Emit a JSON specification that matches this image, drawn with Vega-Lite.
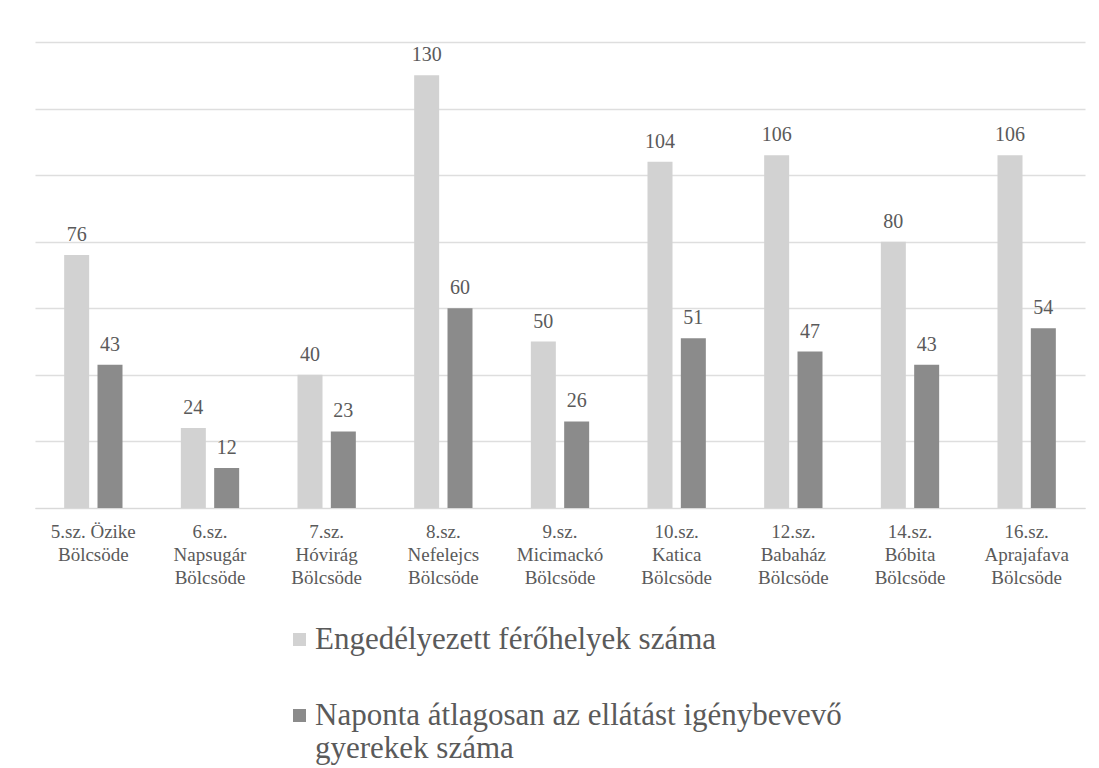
{
  "$schema": "https://vega.github.io/schema/vega-lite/v6.json",
  "width": 1050,
  "height": 466,
  "padding": {"left": 35, "top": 42, "right": 5, "bottom": 5},
  "background": "white",
  "config": {
    "view": {"stroke": null},
    "font": "Liberation Serif"
  },
  "data": {
    "values": [
      {"bolcsode": "5.sz. Özike|Bölcsöde", "sorozat": "Engedélyezett férőhelyek száma", "ertek": 76},
      {"bolcsode": "5.sz. Özike|Bölcsöde", "sorozat": "Naponta átlagosan az ellátást igénybevevő gyerekek száma", "ertek": 43},
      {"bolcsode": "6.sz.|Napsugár|Bölcsöde", "sorozat": "Engedélyezett férőhelyek száma", "ertek": 24},
      {"bolcsode": "6.sz.|Napsugár|Bölcsöde", "sorozat": "Naponta átlagosan az ellátást igénybevevő gyerekek száma", "ertek": 12},
      {"bolcsode": "7.sz.|Hóvirág|Bölcsöde", "sorozat": "Engedélyezett férőhelyek száma", "ertek": 40},
      {"bolcsode": "7.sz.|Hóvirág|Bölcsöde", "sorozat": "Naponta átlagosan az ellátást igénybevevő gyerekek száma", "ertek": 23},
      {"bolcsode": "8.sz.|Nefelejcs|Bölcsöde", "sorozat": "Engedélyezett férőhelyek száma", "ertek": 130},
      {"bolcsode": "8.sz.|Nefelejcs|Bölcsöde", "sorozat": "Naponta átlagosan az ellátást igénybevevő gyerekek száma", "ertek": 60},
      {"bolcsode": "9.sz.|Micimackó|Bölcsöde", "sorozat": "Engedélyezett férőhelyek száma", "ertek": 50},
      {"bolcsode": "9.sz.|Micimackó|Bölcsöde", "sorozat": "Naponta átlagosan az ellátást igénybevevő gyerekek száma", "ertek": 26},
      {"bolcsode": "10.sz.|Katica|Bölcsöde", "sorozat": "Engedélyezett férőhelyek száma", "ertek": 104},
      {"bolcsode": "10.sz.|Katica|Bölcsöde", "sorozat": "Naponta átlagosan az ellátást igénybevevő gyerekek száma", "ertek": 51},
      {"bolcsode": "12.sz.|Babaház|Bölcsöde", "sorozat": "Engedélyezett férőhelyek száma", "ertek": 106},
      {"bolcsode": "12.sz.|Babaház|Bölcsöde", "sorozat": "Naponta átlagosan az ellátást igénybevevő gyerekek száma", "ertek": 47},
      {"bolcsode": "14.sz.|Bóbita|Bölcsöde", "sorozat": "Engedélyezett férőhelyek száma", "ertek": 80},
      {"bolcsode": "14.sz.|Bóbita|Bölcsöde", "sorozat": "Naponta átlagosan az ellátást igénybevevő gyerekek száma", "ertek": 43},
      {"bolcsode": "16.sz.|Aprajafava|Bölcsöde", "sorozat": "Engedélyezett férőhelyek száma", "ertek": 106},
      {"bolcsode": "16.sz.|Aprajafava|Bölcsöde", "sorozat": "Naponta átlagosan az ellátást igénybevevő gyerekek száma", "ertek": 54}
    ]
  },
  "encoding": {
    "x": {
      "field": "bolcsode",
      "type": "nominal",
      "sort": null,
      "scale": {"paddingInner": 0.5, "paddingOuter": 0.25},
      "axis": {
        "title": null,
        "labelAngle": 0,
        "labelExpr": "split(datum.label, '|')",
        "labelFont": "Liberation Serif",
        "labelFontSize": 19,
        "labelColor": "#5a5a5a",
        "labelLineHeight": 23,
        "labelPadding": 14,
        "labelBaseline": "top",
        "ticks": false,
        "domain": true,
        "domainColor": "#d9d9d9",
        "grid": false
      }
    },
    "xOffset": {
      "field": "sorozat",
      "type": "nominal",
      "scale": {"paddingInner": 0.25, "paddingOuter": 0}
    },
    "y": {
      "field": "ertek",
      "type": "quantitative",
      "scale": {"domain": [0, 140], "nice": false},
      "axis": {
        "title": null,
        "values": [0, 20, 40, 60, 80, 100, 120, 140],
        "labels": false,
        "ticks": false,
        "domain": false,
        "grid": true,
        "gridColor": "#dedede",
        "gridWidth": 1.5
      }
    }
  },
  "layer": [
    {
      "mark": {"type": "bar"},
      "encoding": {
        "color": {
          "field": "sorozat",
          "type": "nominal",
          "scale": {
            "domain": ["Engedélyezett férőhelyek száma", "Naponta átlagosan az ellátást igénybevevő gyerekek száma"],
            "range": ["#d2d2d2", "#8b8b8b"]
          },
          "legend": {
            "title": null,
            "orient": "none",
            "legendX": 249,
            "legendY": 582,
            "direction": "vertical",
            "symbolType": "square",
            "symbolSize": 169,
            "symbolStrokeWidth": 0,
            "labelFont": "Liberation Serif",
            "labelFontSize": 31,
            "labelColor": "#5a5a5a",
            "labelLimit": 0,
            "labelLineHeight": 28,
            "labelBaseline": "alphabetic",
            "labelOffset": 0,
            "rowPadding": 44,
            "labelExpr": "datum.label == 'Engedélyezett férőhelyek száma' ? datum.label : ['Naponta átlagosan az ellátást igénybevevő', 'gyerekek száma']",
            "encode": {
              "labels": {"update": {"dy": {"value": 9}}}
            }
          }
        }
      }
    },
    {
      "mark": {"type": "text", "dy": -20, "fontSize": 20, "font": "Liberation Serif", "color": "#5a5a5a"},
      "encoding": {
        "text": {"field": "ertek", "type": "quantitative"}
      }
    }
  ]
}
